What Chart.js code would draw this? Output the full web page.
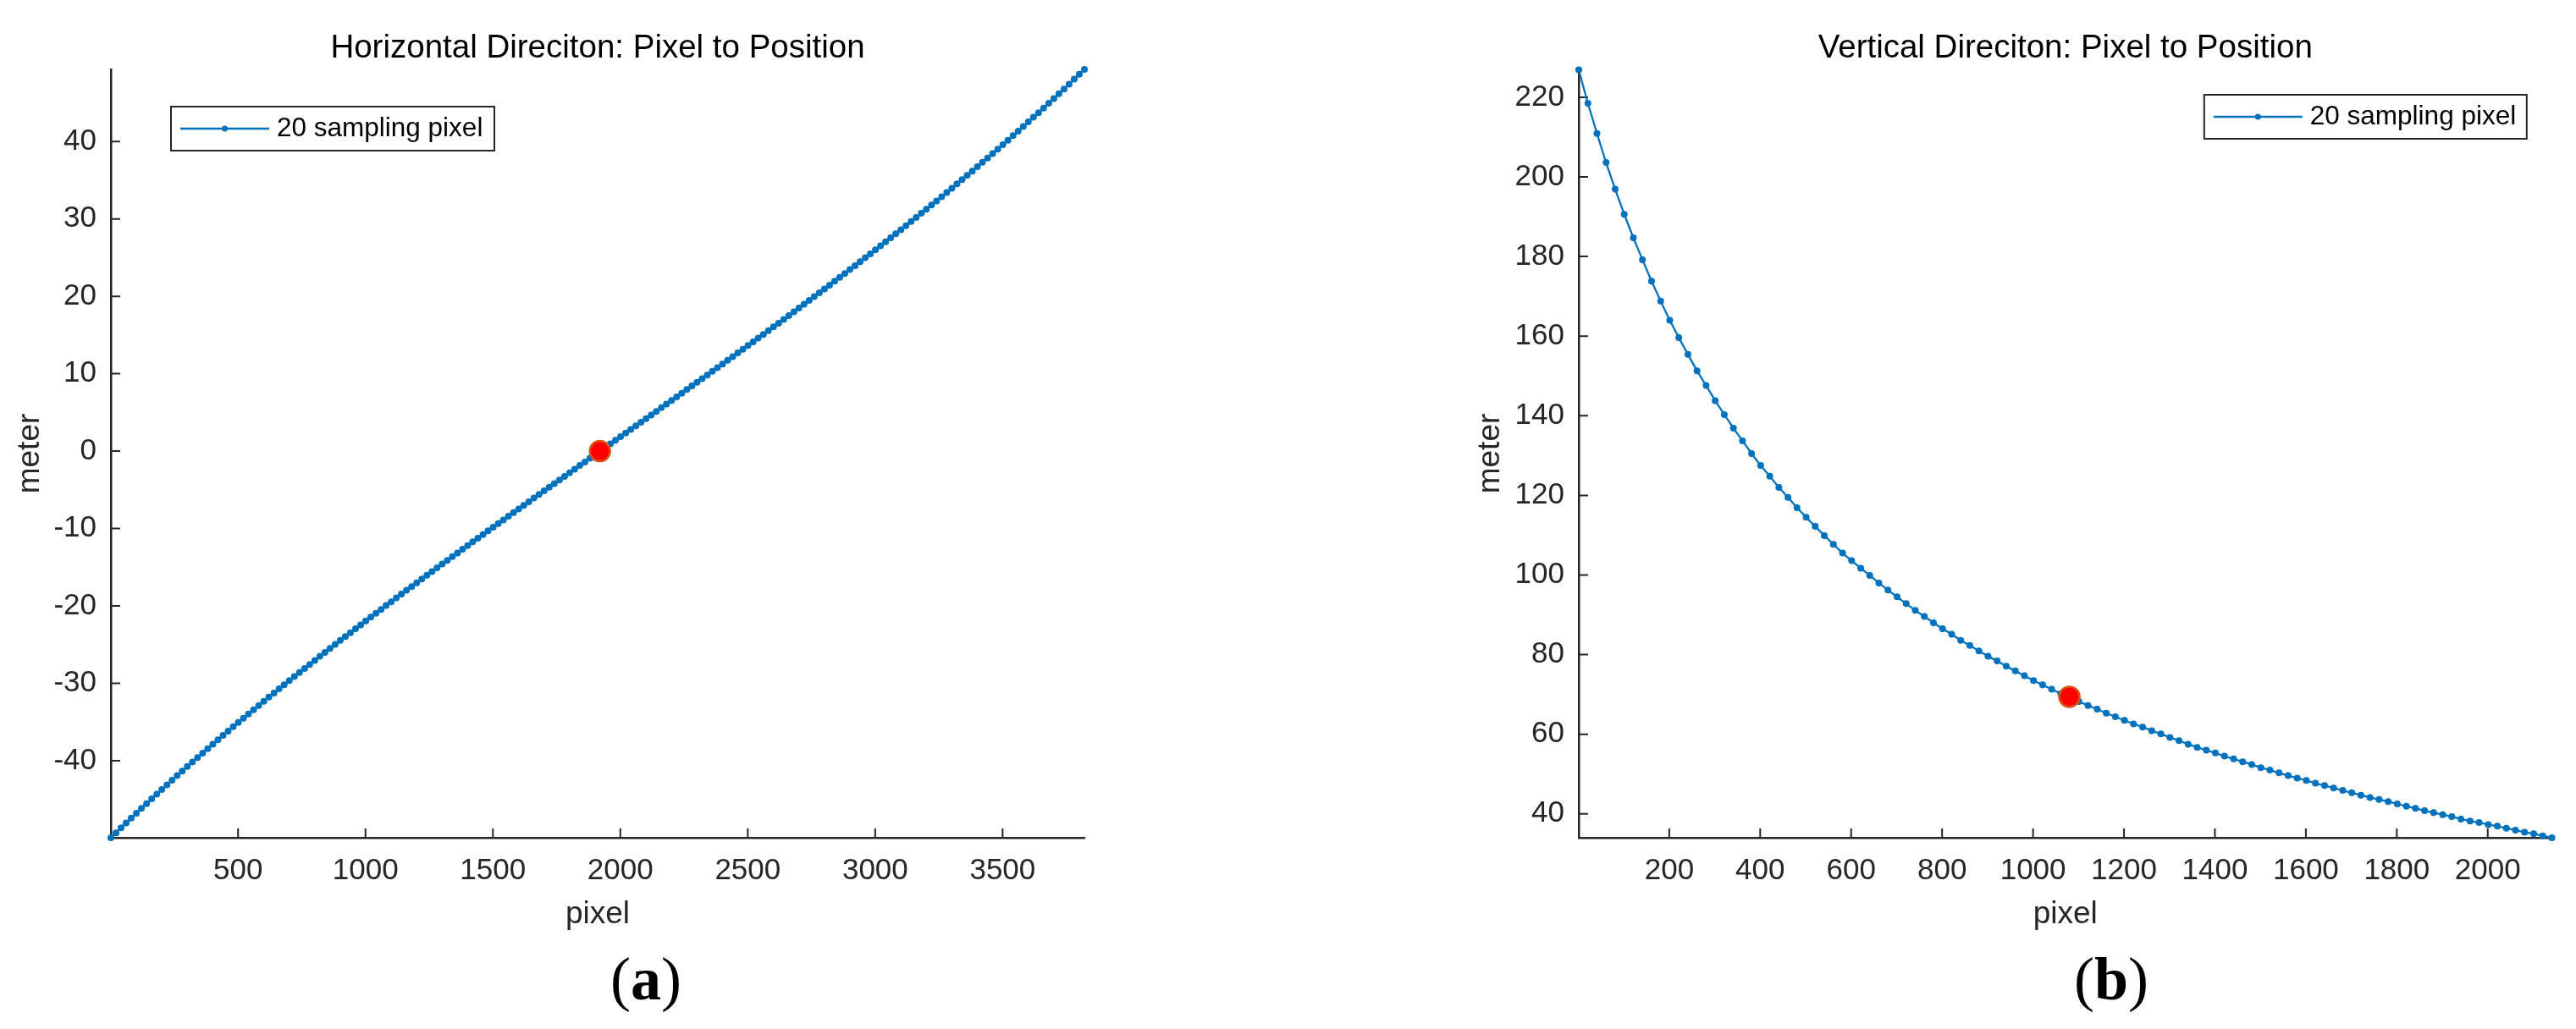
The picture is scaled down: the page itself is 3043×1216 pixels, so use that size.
<!DOCTYPE html>
<html>
<head>
<meta charset="utf-8">
<script src="https://cdn.jsdelivr.net/npm/chart.js@4.4.1/dist/chart.umd.min.js"></script>
<style>
  html, body { margin: 0; padding: 0; background: #fff; overflow: hidden; }
  #wrap { position: relative; width: 3043px; height: 1216px; }
  canvas { position: absolute; top: 0; }
  #cH { left: 0; }
  #cV { left: 1521px; }
  .panel {
    position: absolute; transform: translateX(-50%); white-space: nowrap;
    font-family: "Liberation Serif", "Times New Roman", serif;
    font-size: 72px; line-height: 72px; color: #000;
  }
</style>
</head>
<body>
<div id="wrap">
  <canvas id="cH" width="1521" height="1216"></canvas>
  <canvas id="cV" width="1522" height="1216"></canvas>
  <div class="panel" style="left:763px; top:1121px;">(<b>a</b>)</div>
  <div class="panel" style="left:2494px; top:1121px;">(<b>b</b>)</div>
</div>
<script>
// sampled image columns (every 20 px) and the metres they map to
const pixelH = [
  1,21,41,61,81,101,121,141,161,181,201,221,241,261,281,301,
  321,341,361,381,401,421,441,461,481,501,521,541,561,581,601,621,
  641,661,681,701,721,741,761,781,801,821,841,861,881,901,921,941,
  961,981,1001,1021,1041,1061,1081,1101,1121,1141,1161,1181,1201,1221,1241,1261,
  1281,1301,1321,1341,1361,1381,1401,1421,1441,1461,1481,1501,1521,1541,1561,1581,
  1601,1621,1641,1661,1681,1701,1721,1741,1761,1781,1801,1821,1841,1861,1881,1901,
  1921,1941,1961,1981,2001,2021,2041,2061,2081,2101,2121,2141,2161,2181,2201,2221,
  2241,2261,2281,2301,2321,2341,2361,2381,2401,2421,2441,2461,2481,2501,2521,2541,
  2561,2581,2601,2621,2641,2661,2681,2701,2721,2741,2761,2781,2801,2821,2841,2861,
  2881,2901,2921,2941,2961,2981,3001,3021,3041,3061,3081,3101,3121,3141,3161,3181,
  3201,3221,3241,3261,3281,3301,3321,3341,3361,3381,3401,3421,3441,3461,3481,3501,
  3521,3541,3561,3581,3601,3621,3641,3661,3681,3701,3721,3741,3761,3781,3801,3821
];
const meterH = [
  -49.96,-49.32,-48.68,-48.05,-47.42,-46.79,-46.17,-45.55,-44.94,-44.33,-43.73,-43.13,-42.53,-41.93,-41.34,-40.76,
  -40.17,-39.60,-39.02,-38.44,-37.87,-37.31,-36.74,-36.18,-35.62,-35.07,-34.52,-33.97,-33.42,-32.87,-32.33,-31.79,
  -31.25,-30.72,-30.19,-29.66,-29.13,-28.60,-28.08,-27.56,-27.04,-26.52,-26.01,-25.49,-24.98,-24.47,-23.96,-23.46,
  -22.95,-22.45,-21.95,-21.45,-20.95,-20.46,-19.96,-19.47,-18.97,-18.48,-17.99,-17.50,-17.02,-16.53,-16.05,-15.56,
  -15.08,-14.60,-14.12,-13.64,-13.16,-12.68,-12.20,-11.73,-11.25,-10.78,-10.30,-9.83,-9.36,-8.89,-8.42,-7.95,
  -7.48,-7.01,-6.54,-6.07,-5.60,-5.13,-4.66,-4.20,-3.73,-3.26,-2.80,-2.33,-1.86,-1.40,-0.93,-0.47,
  0.00,0.47,0.93,1.40,1.86,2.33,2.80,3.26,3.73,4.20,4.66,5.13,5.60,6.07,6.54,7.01,
  7.48,7.95,8.42,8.89,9.36,9.83,10.30,10.78,11.25,11.73,12.20,12.68,13.16,13.64,14.12,14.60,
  15.08,15.56,16.05,16.53,17.02,17.50,17.99,18.48,18.97,19.47,19.96,20.46,20.95,21.45,21.95,22.45,
  22.95,23.46,23.96,24.47,24.98,25.49,26.01,26.52,27.04,27.56,28.08,28.60,29.13,29.66,30.19,30.72,
  31.25,31.79,32.33,32.87,33.42,33.97,34.52,35.07,35.62,36.18,36.74,37.31,37.87,38.44,39.02,39.60,
  40.17,40.76,41.34,41.93,42.53,43.13,43.73,44.33,44.94,45.55,46.17,46.79,47.42,48.05,48.68,49.32
];
const pixelV = [
  1,21,41,61,81,101,121,141,161,181,201,221,241,261,281,301,
  321,341,361,381,401,421,441,461,481,501,521,541,561,581,601,621,
  641,661,681,701,721,741,761,781,801,821,841,861,881,901,921,941,
  961,981,1001,1021,1041,1061,1081,1101,1121,1141,1161,1181,1201,1221,1241,1261,
  1281,1301,1321,1341,1361,1381,1401,1421,1441,1461,1481,1501,1521,1541,1561,1581,
  1601,1621,1641,1661,1681,1701,1721,1741,1761,1781,1801,1821,1841,1861,1881,1901,
  1921,1941,1961,1981,2001,2021,2041,2061,2081,2101,2121,2141
];
const meterV = [
  226.9,218.5,210.9,203.6,196.9,190.6,184.7,179.2,173.8,168.8,
  164.0,159.6,155.4,151.3,147.6,143.8,140.3,136.9,133.7,130.5,
  127.5,124.8,122.0,119.5,116.9,114.5,112.2,109.9,107.7,105.5,
  103.6,101.7,99.9,98.0,96.2,94.5,92.8,91.1,89.6,88.0,
  86.5,85.1,83.6,82.3,80.9,79.6,78.4,77.1,75.9,74.7,
  73.5,72.4,71.3,70.2,69.3,68.2,67.2,66.3,65.3,64.4,
  63.5,62.6,61.8,60.9,60.1,59.2,58.4,57.5,56.7,56.0,
  55.3,54.5,53.8,53.1,52.4,51.6,51.0,50.3,49.6,49.0,
  48.4,47.7,47.1,46.5,45.9,45.3,44.7,44.1,43.6,43.1,
  42.5,41.9,41.4,40.8,40.3,39.8,39.3,38.7,38.2,37.8,
  37.3,36.9,36.4,35.9,35.4,35.0,34.5,34.0
];
// image centre marker [pixel, meter]
const centreH = [1920, 0];
const centreV = [1080, 69.4];

const xTicksH = [500, 1000, 1500, 2000, 2500, 3000, 3500];
const yTicksH = [-40, -30, -20, -10, 0, 10, 20, 30, 40];
const xTicksV = [200, 400, 600, 800, 1000, 1200, 1400, 1600, 1800, 2000];
const yTicksV = [40, 60, 80, 100, 120, 140, 160, 180, 200, 220];

const blue = '#0072BD';
const axisGrey = '#262626';
const family = '"Liberation Sans", Arial, Helvetica, sans-serif';

// matlab style ticks pointing into the axes
const inwardTicks = {
    id: 'inwardTicks',
    beforeDatasetsDraw(chart, args, opts) {
        const { ctx, chartArea, scales } = chart;
        ctx.save();
        ctx.strokeStyle = axisGrey;
        ctx.lineWidth = 2;
        ctx.beginPath();
        opts.x.forEach(v => {
            const px = scales.x.getPixelForValue(v);
            ctx.moveTo(px, chartArea.bottom);
            ctx.lineTo(px, chartArea.bottom - 11);
        });
        opts.y.forEach(v => {
            const py = scales.y.getPixelForValue(v);
            ctx.moveTo(chartArea.left, py);
            ctx.lineTo(chartArea.left + 11, py);
        });
        ctx.stroke();
        ctx.restore();
    }
};

// boxed legend with line + dot sample
const boxLegend = {
    id: 'boxLegend',
    afterDatasetsDraw(chart, args, opts) {
        const { ctx, chartArea } = chart;
        const ds = chart.data.datasets[1];
        const left = opts.anchor === 'right' ? chartArea.right - opts.dx - opts.w : chartArea.left + opts.dx;
        const top = chartArea.top + opts.dy;
        const cy = top + opts.h / 2;
        ctx.save();
        ctx.fillStyle = '#fff';
        ctx.fillRect(left, top, opts.w, opts.h);
        ctx.strokeStyle = axisGrey;
        ctx.lineWidth = 2;
        ctx.strokeRect(left, top, opts.w, opts.h);
        ctx.strokeStyle = ds.borderColor;
        ctx.lineWidth = 2.5;
        ctx.beginPath();
        ctx.moveTo(left + 11, cy);
        ctx.lineTo(left + 116, cy);
        ctx.stroke();
        ctx.fillStyle = ds.borderColor;
        ctx.beginPath();
        ctx.arc(left + 63.5, cy, 3.5, 0, Math.PI * 2);
        ctx.fill();
        ctx.fillStyle = '#000';
        ctx.font = '31.5px ' + family;
        ctx.textAlign = 'left';
        ctx.textBaseline = 'middle';
        ctx.fillText(ds.label, left + 125, cy);
        ctx.restore();
    }
};

function makeChart(id, cfg) {
    const points = cfg.px.map((x, i) => ({ x: x, y: cfg.m[i] }));
    return new Chart(document.getElementById(id), {
        type: 'scatter',
        data: {
            datasets: [{
                label: 'centre',
                data: [{ x: cfg.centre[0], y: cfg.centre[1] }],
                pointRadius: 12,
                pointBackgroundColor: '#FF0000',
                pointBorderColor: '#D95319',
                pointBorderWidth: 2.5,
                order: 0,
                clip: false
            }, {
                label: '20 sampling pixel',
                data: points,
                showLine: true,
                borderColor: blue,
                borderWidth: 2.3,
                pointRadius: 4,
                pointBackgroundColor: blue,
                pointBorderWidth: 0,
                order: 1,
                clip: false
            }]
        },
        options: {
            responsive: false,
            animation: false,
            devicePixelRatio: 1,
            events: [],
            layout: { padding: { left: 0, right: cfg.padRight, top: 0, bottom: 96 } },
            plugins: {
                legend: { display: false },
                tooltip: { enabled: false },
                title: {
                    display: true,
                    text: cfg.title,
                    fullSize: false,
                    color: '#000',
                    font: { family: family, size: 38.5, weight: 'normal' },
                    padding: { top: 34, bottom: 1.8 }
                },
                inwardTicks: { x: cfg.xTicks, y: cfg.yTicks },
                boxLegend: cfg.legend
            },
            scales: {
                x: {
                    type: 'linear',
                    min: cfg.xMin, max: cfg.xMax,
                    grid: { display: false, drawTicks: false },
                    border: { display: true, color: axisGrey, width: 2.5 },
                    ticks: {
                        color: axisGrey, padding: 18, autoSkip: false, maxRotation: 0,
                        font: { family: family, size: 35 },
                        callback: v => String(v)
                    },
                    afterBuildTicks: s => { s.ticks = cfg.xTicks.map(v => ({ value: v })); },
                    afterFit: s => { s.height = 130; },
                    title: {
                        display: true, text: 'pixel', color: axisGrey,
                        font: { family: family, size: 37 },
                        padding: { top: 0, bottom: 16.8 }
                    }
                },
                y: {
                    type: 'linear',
                    min: cfg.yMin, max: cfg.yMax,
                    grid: { display: false, drawTicks: false },
                    border: { display: true, color: axisGrey, width: 2.5 },
                    ticks: {
                        color: axisGrey, padding: 17,
                        font: { family: family, size: 35 },
                        callback: v => String(v)
                    },
                    afterBuildTicks: s => { s.ticks = cfg.yTicks.map(v => ({ value: v })); },
                    afterFit: s => { s.width = cfg.yWidth; },
                    title: {
                        display: true, text: 'meter', color: axisGrey,
                        font: { family: family, size: 37 },
                        padding: { top: cfg.yTitlePad, bottom: 0 }
                    }
                }
            }
        },
        plugins: [inwardTicks, boxLegend]
    });
}

makeChart('cH', {
    px: pixelH, m: meterH, centre: centreH,
    xTicks: xTicksH, yTicks: yTicksH,
    xMin: 1, xMax: 3821, yMin: -49.96, yMax: 49.32,
    title: 'Horizontal Direciton: Pixel to Position',
    padRight: 240, yWidth: 131, yTitlePad: 13.8,
    legend: { anchor: 'left', dx: 71, dy: 44, w: 382, h: 52 }
});

makeChart('cV', {
    px: pixelV, m: meterV, centre: centreV,
    xTicks: xTicksV, yTicks: yTicksV,
    xMin: 1, xMax: 2141, yMin: 34.0, yMax: 227.0,
    title: 'Vertical Direciton: Pixel to Position',
    padRight: 28.5, yWidth: 344, yTitlePad: 217.8,
    legend: { anchor: 'right', dx: 29.7, dy: 30, w: 381, h: 52 }
});
</script>
</body>
</html>
